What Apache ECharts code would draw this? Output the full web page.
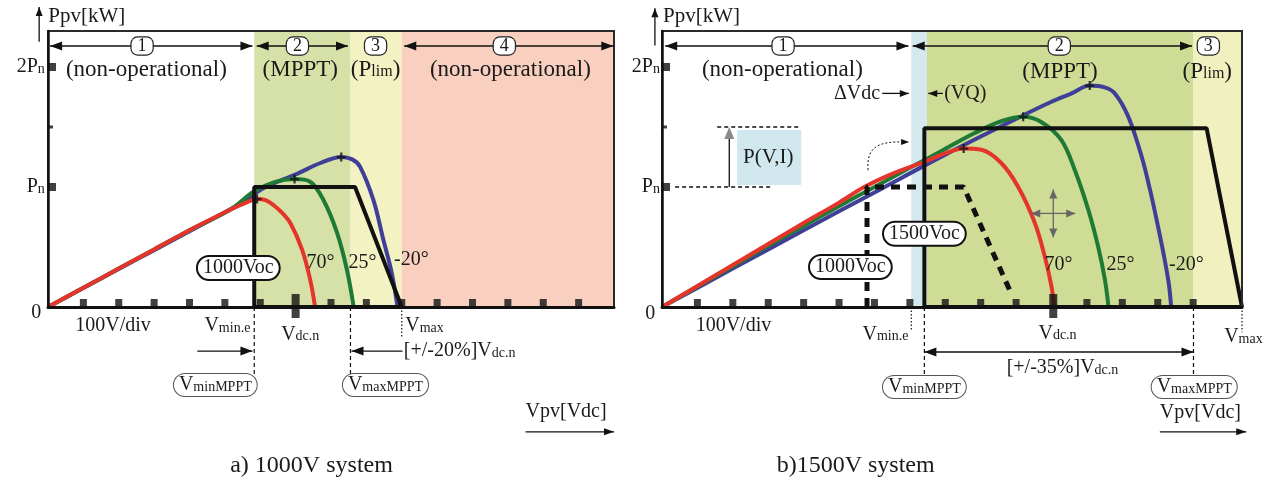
<!DOCTYPE html>
<html><head><meta charset="utf-8">
<script src="https://cdn.jsdelivr.net/npm/echarts@6/dist/echarts.min.js"></script>
<style>html,body{margin:0;padding:0;background:#fff}#c{width:1272px;height:484px}</style>
</head><body><div id="c"></div>
<script>
// ===== DATA (V in volts, P in units of Pn) =====
// a) 1000 V system
const vTicksA = [100,200,300,400,500,600,800,900,1000,1100,1200,1300,1400,1500];
const vdcnA = 700;
const red70A = [[0,0],[100,0.16],[200,0.32],[300,0.48],[400,0.64],[515,0.81],[560,0.87],[591,0.90],[615,0.89],[637,0.85],[660,0.79],[685,0.70],[718,0.48],[741,0.23],[755,0]];
const green25A = [[0,0],[100,0.16],[200,0.32],[300,0.48],[400,0.64],[515,0.81],[581,0.96],[640,1.04],[697,1.066],[741,1.044],[779,0.89],[817,0.62],[845,0.31],[864,0]];
const blueM20A = [[0,0],[100,0.158],[200,0.316],[300,0.474],[400,0.632],[500,0.79],[560,0.89],[609,0.99],[704,1.11],[770,1.2],[829,1.25],[860,1.23],[882,1.17],[920,0.89],[948,0.56],[972,0.28],[988,0]];
const peaksA = [[591,0.90],[697,1.066],[829,1.25]];
const limitA = [[583,0],[583,1.0],[868,1.0],[1000,0],[583,0]];
const zonesA = {mpptStart:583, plimStart:855, nonOpStart:1000, end:1600};
// b) 1500 V system
const vTicksB = [100,200,300,400,500,600,700,800,900,1000,1200,1300,1400,1500];
const vdcnB = 1105;
const red70B = [[0,0],[100,0.175],[200,0.35],[300,0.525],[400,0.70],[500,0.87],[571,1.0],[650,1.11],[741,1.21],[800,1.28],[852,1.32],[902,1.31],[958,1.2],[1006,1.0],[1053,0.7],[1081,0.42],[1100,0.17],[1108,0]];
const green25B = [[0,0],[100,0.17],[200,0.34],[300,0.51],[400,0.675],[500,0.84],[600,1.0],[700,1.16],[789,1.3],[883,1.45],[960,1.55],[1020,1.585],[1072,1.54],[1128,1.39],[1166,1.14],[1204,0.81],[1232,0.5],[1251,0.225],[1261,0]];
const blueM20B = [[0,0],[200,0.32],[400,0.64],[600,0.955],[800,1.27],[1022,1.6],[1100,1.71],[1157,1.78],[1208,1.845],[1250,1.83],[1279,1.78],[1317,1.585],[1355,1.25],[1378,0.98],[1393,0.78],[1416,0.45],[1431,0.2],[1438,0]];
const peaksB = [[852,1.32],[1020,1.585],[1208,1.845]];
const limitB = [[741,0],[741,1.49],[1538,1.49],[1638,0],[741,0]];
const limit1000B = [[579,0],[579,1.0],[852,1.0],[988,0.1]];
const zonesB = {vminE:704, mpptStart:748, plimStart:1501, end:1638};
const pTicks = [1,2];
const pMinor = [1.5];

// ===== CHART =====
const FONT = '"Liberation Serif","Times New Roman",serif';
const chart = echarts.init(document.getElementById('c'), null, {renderer:'canvas', width:1272, height:484});
const COL = {red:'#e5352b', green:'#1f7a36', blue:'#3f3f98', k:'#111'};
const PLUS = 'path://M3,0H5V3H8V5H5V8H3V5H0V3H3Z';

function axesFor(i, max){
  return {
    x:{type:'value', gridIndex:i, min:0, max:max, z:7, axisLabel:{show:false}, axisTick:{show:false}, splitLine:{show:false},
       axisLine:{show:true, onZero:false, lineStyle:{color:'#111', width:3}}},
    y:{type:'value', gridIndex:i, min:0, max:2.3, z:7, axisLabel:{show:false}, axisTick:{show:false}, splitLine:{show:false},
       axisLine:{show:true, onZero:false, lineStyle:{color:'#111', width:2.5}}}
  };
}
const axA = axesFor(0,1600), axB = axesFor(1,1638);
function curve(i, data, color){
  return {type:'line', xAxisIndex:i, yAxisIndex:i, data, smooth:0.35, showSymbol:false, z:3, silent:true,
          lineStyle:{color, width:4}};
}
function zones(i, list){
  return {type:'line', xAxisIndex:i, yAxisIndex:i, data:[[0,0]], showSymbol:false, lineStyle:{width:0}, z:1, silent:true,
    markArea:{silent:true, label:{show:false}, data:list.map(z=>[{xAxis:z[0], itemStyle:{color:z[2]}},{xAxis:z[1]}])}};
}
function scat(i, data, symbol, size, offset, z){
  return {type:'scatter', xAxisIndex:i, yAxisIndex:i, data, symbol, symbolSize:size, symbolOffset:offset||[0,0],
          itemStyle:{color:'#111'}, z:z||6, silent:true};
}
const series = [];
[[0,zonesA,red70A,green25A,blueM20A,peaksA,limitA,vTicksA,vdcnA],[1,zonesB,red70B,green25B,blueM20B,peaksB,limitB,vTicksB,vdcnB]].forEach(s=>{
  const [i,z,r,gr,b,pk,lim,tk,vd] = s;
  if(i===0){
    series.push(zones(0,[[z.mpptStart,z.plimStart,'#d5e1a6'],[z.plimStart,z.nonOpStart,'#f3f2c2'],[z.nonOpStart,z.end,'#f9d0bf']]));
  } else {
    series.push(zones(1,[[z.vminE,z.mpptStart,'#d3e9ee'],[z.mpptStart,z.plimStart,'#cedc95'],[z.plimStart,z.end,'#f1f1c0']]));
  }
  series.push(curve(i,b,COL.blue), curve(i,gr,COL.green), curve(i,r,COL.red));
  series.push({type:'line', xAxisIndex:i, yAxisIndex:i, data:lim, showSymbol:false, z:4, silent:true, lineStyle:{color:'#111', width:4}});
  series.push(scat(i, pk, PLUS, 9, [0,0], 8));
  series.push(scat(i, tk.map(v=>[v,0]), 'rect', [7,8], [0,-4]));
  series.push(scat(i, [[vd,0]], 'rect', [8,24], [0,-1]));
  series.push(scat(i, pTicks.map(p=>[0,p]), 'rect', [8,8], [4,0]));
  series.push(scat(i, pMinor.map(p=>[0,p]), 'rect', [5,3], [2.5,0]));
});
series.push({type:'line', xAxisIndex:1, yAxisIndex:1, data:limit1000B, showSymbol:false, z:4, silent:true, lineStyle:{color:'#111', width:5, type:[9,7]}});

chart.setOption({
  animation:false,
  textStyle:{fontFamily:FONT},
  grid:[{left:48, top:31, width:566, height:276, show:true, borderColor:'#2a2a2a', borderWidth:2, backgroundColor:'transparent', z:6},
        {left:662, top:31, width:580, height:276, show:true, borderColor:'#2a2a2a', borderWidth:2, backgroundColor:'transparent', z:6}],
  xAxis:[axA.x, axB.x], yAxis:[axA.y, axB.y],
  series
});

// ===== ANNOTATIONS =====
const A = (v,p)=>chart.convertToPixel({gridIndex:0},[v,p]);
const B = (v,p)=>chart.convertToPixel({gridIndex:1},[v,p]);
const g = [];
const RICH = {
  b:{fontSize:20, fontFamily:FONT, fill:'#1a1a1a', verticalAlign:'middle', lineHeight:22},
  s:{fontSize:14, fontFamily:FONT, fill:'#1a1a1a', verticalAlign:'middle', lineHeight:16, padding:[4,0,0,0]},
  B:{fontSize:23, fontFamily:FONT, fill:'#1a1a1a', verticalAlign:'middle', lineHeight:25},
  S:{fontSize:16, fontFamily:FONT, fill:'#1a1a1a', verticalAlign:'middle', lineHeight:18, padding:[4,0,0,0]}
};
function txt(p, text, o){
  o = o||{};
  const st = Object.assign({text, rich:RICH, font:(o.size||20)+'px '+FONT, fill:'#1a1a1a',
    align:o.align||'center', textAlign:o.align||'center', verticalAlign:'middle', textVerticalAlign:'middle'}, o.style||{});
  g.push({type:'text', x:p[0], y:p[1], z:40, silent:true, style:st});
}
function line(a,b,st){ g.push({type:'line', shape:{x1:a[0],y1:a[1],x2:b[0],y2:b[1]}, z:30, silent:true, style:Object.assign({stroke:'#111', lineWidth:1.3},st||{})}); }
function head(p, ang, col, L, W){
  L=L||12; W=W||4.5;
  const bx=p[0]-L*Math.cos(ang), by=p[1]-L*Math.sin(ang), nx=-Math.sin(ang)*W, ny=Math.cos(ang)*W;
  g.push({type:'polygon', z:31, silent:true, shape:{points:[[p[0],p[1]],[bx+nx,by+ny],[bx-nx,by-ny]]}, style:{fill:col||'#111'}});
}
function arrow(a,b,col,L,W){ line(a,b,{stroke:col||'#111'}); head(b, Math.atan2(b[1]-a[1], b[0]-a[0]), col, L, W); }
function dbl(a,b){ line(a,b); head(a, Math.atan2(a[1]-b[1],a[0]-b[0])); head(b, Math.atan2(b[1]-a[1],b[0]-a[0])); }
function badge(p, n){ txt(p, n, {size:18, style:{backgroundColor:'#fff', borderColor:'#222', borderWidth:1.2, borderRadius:6, padding:[0,6,0,6], lineHeight:17}}); }
function pill(p, text, thick){ txt(p, text, {style:{backgroundColor:'#fff', borderColor:thick?'#111':'#555', borderWidth:thick?2:1, borderRadius:11, padding:[0,5,0,5]}}); }
function vdash(P, v, p0, p1, dash){ line(P(v,p0), P(v,p1), {lineDash:dash||[4,3], lineWidth:1.2}); }

// ---- panel a
dbl(A(6,2.175), A(578,2.175)); badge(A(266,2.175),'1'); txt(A(278,1.975),'(non-operational)',{size:23});
dbl(A(590,2.175), A(848,2.175)); badge(A(705,2.175),'2'); txt(A(713,1.975),'(MPPT)',{size:23});
badge(A(926,2.175),'3'); txt(A(926,1.975),'{B|(P}{S|lim}{B|)}');
dbl(A(1007,2.175), A(1598,2.175)); badge(A(1290,2.175),'4'); txt(A(1307,1.975),'(non-operational)',{size:23});
txt(A(-9,2.0),'{b|2P}{s|n}',{align:'right'}); txt(A(-9,1.0),'{b|P}{s|n}',{align:'right'}); txt(A(-33,-0.05),'0');
txt(A(1,2.425),'Ppv[kW]',{align:'left',size:21}); arrow(A(-25,2.21),A(-25,2.5),'#111',9,3.5);
txt(A(77,-0.16),'100V/div',{align:'left'});
txt(A(572,-0.16),'{b|V}{s|min.e}',{align:'right'});
txt(A(713,-0.23),'{b|V}{s|dc.n}');
txt(A(1010,-0.16),'{b|V}{s|max}',{align:'left'});
arrow(A(422,-0.367),A(578,-0.367));
arrow(A(1002,-0.367),A(858,-0.367)); txt(A(1006,-0.367),'{b|[+/-20%]V}{s|dc.n}',{align:'left'});
vdash(A,583,0,-0.56); vdash(A,855,0,-0.56); vdash(A,1000,0,-0.25,[1.5,2]);
pill(A(473,-0.65),'{b|V}{s|minMPPT}'); pill(A(954,-0.65),'{b|V}{s|maxMPPT}');
txt(A(1350,-0.875),'Vpv[Vdc]',{align:'left'}); arrow(A(1350,-1.04),A(1600,-1.04),'#111',10,3.5);
txt(A(745,-1.32),'a) 1000V system',{size:24});
pill(A(538,0.325),'{b|1000Voc}',true);
txt(A(770,0.37),'70°'); txt(A(889,0.37),'25°'); txt(A(1027,0.39),'-20°');

// ---- panel b
dbl(B(9,2.175), B(696,2.175)); badge(B(342,2.175),'1'); txt(B(340,1.975),'(non-operational)',{size:23});
dbl(B(708,2.175), B(1497,2.175)); badge(B(1122,2.175),'2'); txt(B(1124,1.958),'(MPPT)',{size:23});
badge(B(1543,2.175),'3'); txt(B(1540,1.958),'{B|(P}{S|lim}{B|)}');
txt(B(-6,2.0),'{b|2P}{s|n}',{align:'right'}); txt(B(-6,1.0),'{b|P}{s|n}',{align:'right'}); txt(B(-33,-0.06),'0');
txt(B(3,2.425),'Ppv[kW]',{align:'left',size:21}); arrow(B(-20,2.18),B(-20,2.49),'#111',9,3.5);
txt(B(616,1.78),'ΔVdc',{align:'right'}); arrow(B(622,1.78),B(697,1.78),'#111',9,3.5);
arrow(B(793,1.78),B(752,1.78),'#111',9,3.5); txt(B(797,1.78),'(VQ)',{align:'left'});
// P(V,I) inset
const r1 = B(212,1.475), r2 = B(393,1.017);
g.push({type:'rect', z:25, silent:true, shape:{x:r1[0], y:r1[1], width:r2[0]-r1[0], height:r2[1]-r1[1]}, style:{fill:'#d0e7ee'}});
line(B(156,1.5),B(393,1.5),{lineDash:[4,3]}); line(B(37,1.0),B(306,1.0),{lineDash:[4,3]});
line(B(190,1.0),B(190,1.42)); head(B(190,1.5),-Math.PI/2,'#8a8a8a',12,5);
txt(B(300,1.25),'P(V,I)',{size:21});
// dotted curved arrow
const c0=B(582,1.14), c1=B(576,1.342), c2=B(615,1.383), c3=B(688,1.375);
g.push({type:'bezierCurve', z:30, silent:true, shape:{x1:c0[0],y1:c0[1],cpx1:c1[0],cpy1:c1[1],cpx2:c2[0],cpy2:c2[1],x2:c3[0],y2:c3[1]}, style:{stroke:'#111', lineWidth:1, lineDash:[2,2], fill:null}});
head(B(698,1.375),0,'#111',8,3);
pill(B(741,0.61),'{b|1500Voc}',true); pill(B(532,0.333),'{b|1000Voc}',true);
// four-way arrow
const q = B(1105,0.78);
arrow([q[0],q[1]],[q[0]-22,q[1]],'#666',9,4); arrow([q[0],q[1]],[q[0]+22,q[1]],'#666',9,4);
arrow([q[0],q[1]],[q[0],q[1]-24],'#666',9,4); arrow([q[0],q[1]],[q[0],q[1]+24],'#666',9,4);
txt(B(1120,0.35),'70°'); txt(B(1295,0.35),'25°'); txt(B(1481,0.35),'-20°');
vdash(B,704,0,-0.19,[1.5,2]); vdash(B,741,0,-0.56); vdash(B,1501,0,-0.56); vdash(B,1638,0,-0.21,[1.5,2]);
txt(B(95,-0.16),'100V/div',{align:'left'});
txt(B(696,-0.23),'{b|V}{s|min.e}',{align:'right'});
txt(B(1117,-0.22),'{b|V}{s|dc.n}');
txt(B(1642,-0.25),'{b|V}{s|max}');
dbl(B(741,-0.375),B(1501,-0.375));
txt(B(1131,-0.51),'{b|[+/-35%]V}{s|dc.n}');
pill(B(741,-0.667),'{b|V}{s|minMPPT}'); pill(B(1503,-0.667),'{b|V}{s|maxMPPT}');
txt(B(1406,-0.88),'Vpv[Vdc]',{align:'left'}); arrow(B(1406,-1.04),B(1650,-1.04),'#111',10,3.5);
txt(B(547,-1.32),'b)1500V system',{size:24});

chart.setOption({graphic:{elements:g}});
</script>
</body></html>
